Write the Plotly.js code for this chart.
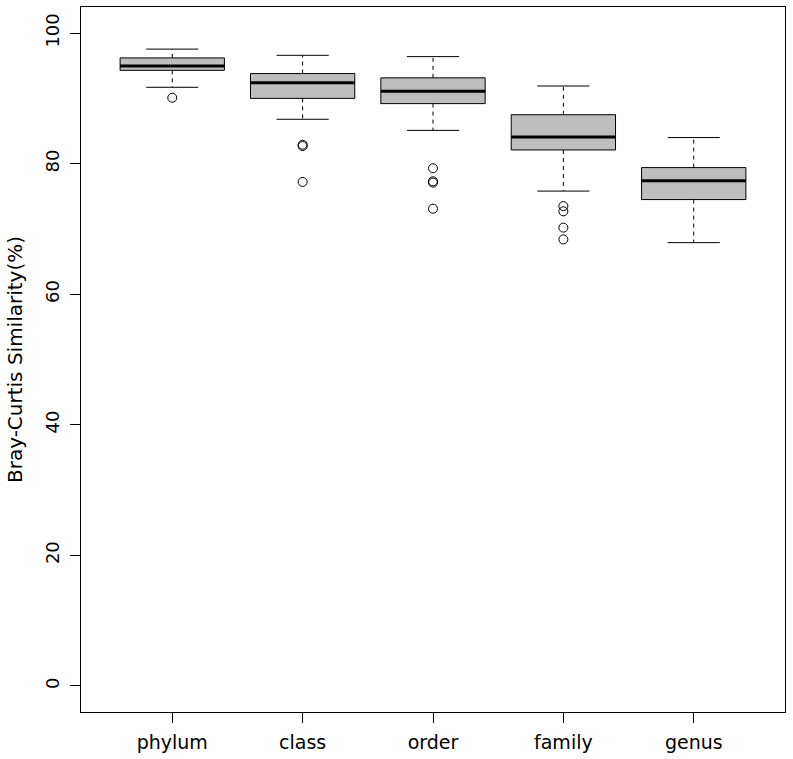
<!DOCTYPE html>
<html>
<head>
<meta charset="utf-8">
<script src="https://cdn.plot.ly/plotly-3.0.1.min.js"></script>
<style>html,body{margin:0;padding:0;background:#fff;}#chart{width:793px;height:759px;}</style>
</head>
<body>
<div id="chart"></div>
<script>
// ---- data ----
const categories = ["phylum", "class", "order", "family", "genus"];
const positions = [1, 2, 3, 4, 5];
const lowerWhisker = [91.7, 86.8, 85.1, 75.8, 67.9];
const q1Values     = [94.3, 90.0, 89.2, 82.1, 74.5];
const medianValues = [94.95, 92.4, 91.1, 84.1, 77.4];
const q3Values     = [96.2, 93.8, 93.15, 87.5, 79.4];
const upperWhisker = [97.55, 96.6, 96.4, 91.9, 84.0];
const outliersPhylum = [90.1];
const outliersClass  = [82.7, 82.9, 77.2];
const outliersOrder  = [79.3, 77.1, 77.3, 73.1];
const outliersFamily = [73.5, 72.7, 70.2, 68.4];
const outliersGenus  = [];
const yTicks = [0, 20, 40, 60, 80, 100];
const yTitle = "Bray-Curtis Similarity(%)";

// ---- build traces ----
const halfBox = 0.4, halfCap = 0.2;
const FONT = "DejaVu Sans, sans-serif";

const boxTrace = {
  type: "box",
  x: positions,
  q1: q1Values,
  median: medianValues,
  q3: q3Values,
  lowerfence: q1Values,
  upperfence: q3Values,
  width: 2 * halfBox,
  boxpoints: false,
  fillcolor: "#bebebe",
  line: { color: "#000000", width: 1 },
  whiskerwidth: 0,
  hoverinfo: "skip",
  showlegend: false
};

const wx = [], wy = [];
const cx = [], cy = [];
const mx = [], my = [];
positions.forEach((p, i) => {
  wx.push(p, p, null, p, p, null);
  wy.push(q3Values[i], upperWhisker[i], null, q1Values[i], lowerWhisker[i], null);
  cx.push(p - halfCap, p + halfCap, null, p - halfCap, p + halfCap, null);
  cy.push(upperWhisker[i], upperWhisker[i], null, lowerWhisker[i], lowerWhisker[i], null);
  mx.push(p - halfBox, p + halfBox, null);
  my.push(medianValues[i], medianValues[i], null);
});

const whiskerTrace = {
  type: "scatter", mode: "lines", x: wx, y: wy,
  line: { color: "#000000", width: 1, dash: "4px,4px" },
  hoverinfo: "skip", showlegend: false, connectgaps: false
};
const capTrace = {
  type: "scatter", mode: "lines", x: cx, y: cy,
  line: { color: "#000000", width: 1 },
  hoverinfo: "skip", showlegend: false, connectgaps: false
};
const medianTrace = {
  type: "scatter", mode: "lines", x: mx, y: my,
  line: { color: "#000000", width: 3 },
  hoverinfo: "skip", showlegend: false, connectgaps: false
};

const outlierGroups = [outliersPhylum, outliersClass, outliersOrder, outliersFamily, outliersGenus];
const ox = [], oy = [];
outlierGroups.forEach((g, i) => g.forEach(v => { ox.push(positions[i]); oy.push(v); }));
const outlierTrace = {
  type: "scatter", mode: "markers", x: ox, y: oy,
  marker: { symbol: "circle-open", size: 9, color: "#000000", line: { width: 1, color: "#000000" } },
  hoverinfo: "skip", showlegend: false
};

const layout = {
  width: 793, height: 759,
  margin: { l: 81, r: 8, t: 7, b: 47, pad: 0 },
  paper_bgcolor: "#ffffff", plot_bgcolor: "#ffffff",
  font: { family: FONT, size: 18, color: "#000000" },
  showlegend: false,
  xaxis: {
    type: "linear",
    range: [0.3, 5.7],
    tickmode: "array", tickvals: positions, ticktext: categories,
    ticks: "outside", ticklen: 10, tickwidth: 1, tickcolor: "#000000",
    showline: true, mirror: true, linecolor: "#000000", linewidth: 1,
    showgrid: false, zeroline: false,
    tickfont: { family: FONT, size: 19, color: "#000000" },
    ticklabelstandoff: 3
  },
  yaxis: {
    range: [-4, 104],
    tickmode: "array", tickvals: yTicks, ticktext: yTicks.map(String),
    ticks: "outside", ticklen: 10, tickwidth: 1, tickcolor: "#000000",
    tickangle: -90,
    showline: true, mirror: true, linecolor: "#000000", linewidth: 1,
    showgrid: false, zeroline: false,
    tickfont: { family: FONT, size: 18, color: "#000000" },
    ticklabelstandoff: 4,
    title: { text: yTitle, font: { family: FONT, size: 20, color: "#000000" }, standoff: 13 }
  }
};

Plotly.newPlot("chart", [boxTrace, whiskerTrace, capTrace, medianTrace, outlierTrace], layout, { displayModeBar: false, staticPlot: true });
</script>
</body>
</html>
